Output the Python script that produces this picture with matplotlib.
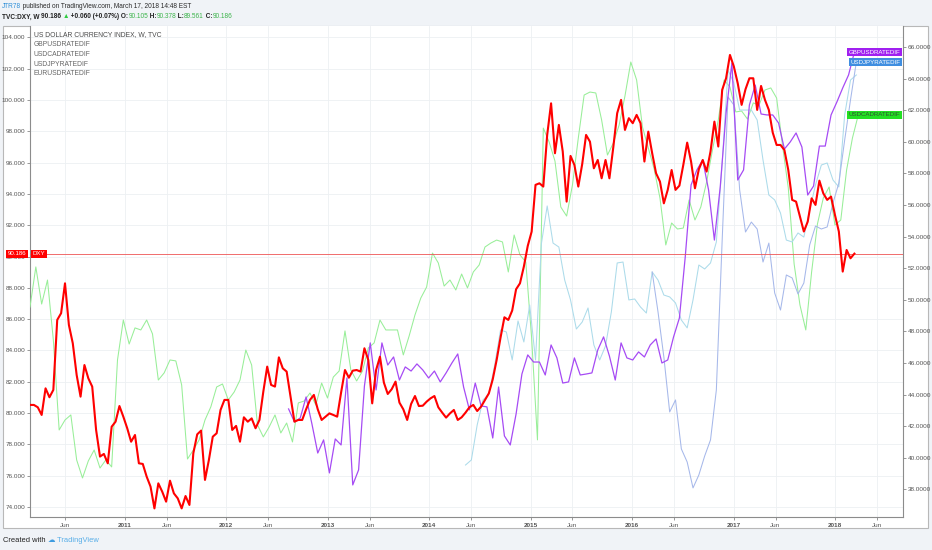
import numpy as np
import pandas as pd
import matplotlib
matplotlib.use('Agg')
import matplotlib.pyplot as plt
import matplotlib.transforms as mtransforms
from matplotlib.patches import Rectangle

W, H = 932, 550
plt.rcParams['font.family'] = ['Liberation Sans Narrow', 'Liberation Sans', 'DejaVu Sans']

### DATA

# US dollar index, sampled every two weeks (left axis)
dxy_start = '2010-01-25'
dxy = [80.52, 80.52, 80.37, 79.88, 81.58, 81.01, 81.48, 85.95, 86.38, 88.29,
       85.63, 84.46, 82.43, 81.05, 83.07, 82.22, 81.69, 78.92, 77.22, 77.39,
       76.79, 79.13, 79.45, 80.45, 79.77, 79.03, 78.17, 78.60, 76.79, 76.75,
       75.94, 75.30, 73.91, 75.51, 74.98, 74.34, 75.68, 74.87, 74.55, 73.91,
       74.70, 74.13, 77.43, 78.64, 78.88, 75.73, 77.00, 78.49, 78.71, 80.20,
       80.84, 80.84, 78.92, 79.18, 78.17, 79.73, 79.45, 79.66, 79.03, 79.56,
       81.37, 82.97, 81.80, 81.69, 83.56, 82.86, 82.65, 81.05, 79.45, 79.56,
       79.56, 80.24, 80.84, 81.16, 80.24,
       79.56, 79.77, 79.98, 79.88, 79.77, 81.31, 82.75, 82.26, 82.71, 82.75,
       82.65, 84.14, 83.39, 80.62, 82.75, 83.60, 81.95, 81.22, 81.52, 82.01,
       80.67, 80.24, 79.56, 80.58, 81.09, 80.45, 80.47, 80.73, 80.94, 81.09,
       80.37, 80.03, 79.71, 79.98, 80.20, 79.56, 79.73, 80.03, 80.37, 80.52,
       80.13, 80.41, 80.84, 81.26, 82.16, 83.39, 84.82, 86.12, 85.95, 86.55,
       87.91, 88.29, 89.36, 90.68,
       91.59, 94.58, 94.68, 94.47, 97.77, 99.79, 96.60, 98.41, 96.71, 93.51,
       96.43, 95.85, 94.47, 95.90, 97.77, 97.34, 95.64, 96.17, 95.00, 96.17,
       95.00, 96.98, 99.16, 100.01, 98.09, 98.84, 98.52, 99.05, 98.52, 96.07,
       97.98, 96.60, 95.32, 94.79, 93.40, 94.26, 95.53, 94.26, 94.53, 95.85,
       97.28, 96.07, 94.36, 95.58, 96.17, 95.43, 96.71, 98.62, 97.03, 100.65,
       101.39, 102.88, 102.14, 101.07, 99.69, 100.69, 101.39, 101.39, 99.37, 100.90,
       100.01, 99.37, 97.92, 97.13, 97.13, 96.81, 95.53, 93.62, 93.51, 92.55,
       91.60, 92.23, 93.72, 93.30, 94.85, 94.04, 93.62, 93.83, 92.66, 91.60,
       89.04, 90.42, 89.89, 90.186]

# rate differentials, sampled every three weeks (right axis)
cad_start = '2010-01-25'
usdcad = [49.54, 52.08, 49.73, 51.25, 47.46, 41.76, 42.39, 42.71, 39.86, 38.72,
          39.80, 40.49, 39.35, 39.86, 39.42, 46.19, 48.72, 47.20, 48.22, 48.09,
          48.72, 47.84, 44.92, 45.37, 46.19, 46.13, 44.61, 39.92, 40.49, 41.13,
          42.39, 43.22, 44.48, 44.67, 43.66, 44.16, 44.92, 46.82, 45.87, 42.08,
          41.32, 41.95, 42.71, 41.57, 42.20, 41.00, 43.47, 43.59, 44.10, 43.34,
          44.73, 43.78, 45.11, 45.49, 48.03, 45.56, 44.86, 45.49, 46.95, 47.27,
          48.72, 48.09, 48.09, 48.09, 46.51, 47.71, 49.04, 50.11, 50.81, 52.96,
          52.33, 50.87, 51.25, 50.62, 51.63, 50.75, 51.76, 52.20, 53.34, 53.59,
          53.78, 53.66, 51.76, 54.10, 52.84, 52.39, 47.58, 41.13, 60.87, 59.99,
          58.78, 55.87, 55.30, 57.27, 60.24, 62.96, 63.15, 63.09, 61.38, 59.16,
          59.92, 61.06, 62.90, 65.05, 63.91, 60.94, 59.61, 58.28, 56.44, 53.47,
          54.86, 54.48, 54.54, 56.32, 55.05, 55.87, 57.46, 59.48, 61.38, 63.91,
          63.47, 61.89, 61.95, 61.44, 62.46, 62.33, 63.28, 63.41, 62.77, 59.80,
          57.08, 52.27, 49.67, 48.09, 51.76, 54.80, 56.44, 57.14, 54.73, 55.05,
          58.22, 60.24, 61.70]

gbp_start = '2012-08-13'
gbpusd = [43.09, 42.27, 42.52, 43.85, 42.14, 40.30, 41.13, 39.04, 41.19, 40.81,
          45.05, 38.28, 39.23, 44.54, 47.27, 44.29, 47.27, 45.87, 46.38, 44.92,
          45.75, 45.49, 45.94, 45.56, 45.05, 45.49, 44.80, 45.37, 46.00, 46.57,
          44.48, 43.03, 44.73, 43.28, 43.22, 41.25, 44.48, 41.38, 40.81, 42.77,
          45.30, 46.51, 46.06, 46.06, 45.24, 47.14, 46.32, 44.73, 44.80, 46.32,
          45.24, 45.30, 45.37, 46.82, 47.65, 46.44, 44.92, 47.27, 46.32, 46.19,
          46.70, 46.38, 47.14, 47.52, 46.00, 46.19, 47.65, 48.85, 52.71, 57.27,
          58.22, 58.85, 56.95, 53.78, 57.14, 61.82, 64.99, 57.58, 58.22, 62.33,
          63.59, 61.76, 61.70, 61.70, 61.19, 59.54, 59.99, 60.56, 59.67, 56.63,
          57.20, 59.73, 59.73, 61.70, 62.52, 63.41, 64.23, 65.68]

eur_start = '2014-05-12'
eurusd = [39.54, 39.86, 42.08, 43.66, 44.04, 45.87, 48.09, 47.96, 46.19, 48.66,
          47.33, 49.67, 46.19, 53.53, 55.94, 53.59, 53.34, 51.25, 49.99, 48.15,
          48.59, 49.48, 47.14, 46.19, 47.08, 49.23, 52.33, 52.39, 49.99, 50.05,
          49.54, 49.16, 51.76, 51.25, 50.30, 50.18, 49.80, 48.72, 48.22, 49.99,
          52.20, 51.95, 52.33, 53.66, 58.66, 64.54, 63.72, 62.01, 62.01, 62.01,
          61.38, 58.85, 56.63, 56.32, 55.49, 53.78, 53.66, 54.23, 53.97, 55.68,
          57.27, 58.53, 58.66, 57.58, 57.14, 61.70, 63.91, 64.23]

jpy_start = '2016-03-14'
usdjpy = [51.76, 49.23, 46.38, 42.90, 43.66, 40.56, 39.73, 38.09, 38.91, 40.11,
          41.13, 44.29, 53.78, 62.84, 62.33, 56.95, 54.29, 54.92, 54.48, 52.39,
          53.59, 50.43, 49.35, 51.57, 51.38, 50.37, 51.06, 53.47, 54.67, 54.48,
          54.61, 56.13, 57.39, 60.11, 62.65, 65.05]

left_ticks = np.arange(74, 105, 2)
right_ticks = np.arange(38, 67, 2)
year_ticks = list(range(2011, 2019))
jun_ticks = list(range(2010, 2019))

legend_lines = ['US DOLLAR CURRENCY INDEX, W, TVC', 'GBPUSDRATEDIF',
                'USDCADRATEDIF', 'USDJPYRATEDIF', 'EURUSDRATEDIF']

dxy_dates = pd.date_range(dxy_start, periods=len(dxy), freq='14D')
cad_dates = pd.date_range(cad_start, periods=len(usdcad), freq='21D')
gbp_dates = pd.date_range(gbp_start, periods=len(gbpusd), freq='21D')
eur_dates = pd.date_range(eur_start, periods=len(eurusd), freq='21D')
jpy_dates = pd.date_range(jpy_start, periods=len(usdjpy), freq='21D')

### FIGURE

fig = plt.figure(figsize=(W / 100, H / 100), dpi=100, facecolor='#f0f3f7')
fig.patches.append(Rectangle((3 / W, 1 - 528 / H), 925 / W, 502 / H, transform=fig.transFigure,
                             facecolor='white', edgecolor='#b8b8b8', lw=0.8, zorder=-5))

ax = fig.add_axes([30 / W, 1 - 517 / H, 873 / W, 491 / H])
ax.set_zorder(1)
ax2 = ax.twinx()   # right scale, thin lines
ax3 = ax.twinx()   # left scale again, so the index sits on top
ax2.set_zorder(2)
ax3.set_zorder(3)

ax.set_xlim(pd.Timestamp('2010-01-25'), pd.Timestamp('2018-09-03'))
ax.set_ylim(73.36, 104.73)
ax3.set_ylim(73.36, 104.73)
ax2.set_ylim(36.25, 67.33)

# x ticks: years and June
tick_dates = [pd.Timestamp(f'{y}-06-01') for y in jun_ticks] + [pd.Timestamp(f'{y}-01-01') for y in year_ticks]
tick_text = ['Jun'] * len(jun_ticks) + [str(y) for y in year_ticks]
order = np.argsort(tick_dates)
tick_dates = [tick_dates[i] for i in order]
tick_text = [tick_text[i] for i in order]
ax.set_xticks(tick_dates)
ax.set_xticklabels(tick_text)
for lbl in ax.get_xticklabels():
    if lbl.get_text() == 'Jun':
        lbl.set_color('#666666')
    else:
        lbl.set_color('#333333')
        lbl.set_fontweight('bold')

ax.set_yticks(left_ticks)
ax.set_yticklabels([f'{v:.3f}' for v in left_ticks])
ax2.set_yticks(right_ticks)
ax2.set_yticklabels([f'{v:.4f}' for v in right_ticks])
ax3.set_yticks([])
ax3.tick_params(right=False, labelright=False)

for a in (ax, ax2):
    a.tick_params(labelsize=4.6, length=2, width=0.6, color='#888888', labelcolor='#555555', pad=1.5)
ax.tick_params(axis='x', pad=2.5)

ax.set_facecolor('white')
ax2.set_facecolor('none')
ax3.set_facecolor('none')
ax.grid(True, color='#edf0f3', lw=0.6)
ax.set_axisbelow(True)

for name, sp in ax.spines.items():
    sp.set_color('#8c8c8c')
    sp.set_linewidth(0.8)
ax.spines['top'].set_visible(False)
for a in (ax2, ax3):
    for sp in a.spines.values():
        sp.set_visible(False)

# thin series
ax2.plot(cad_dates, usdcad, color='#98ee98', lw=0.75)
ax2.plot(eur_dates, eurusd, color='#acdbea', lw=0.75)
ax2.plot(jpy_dates, usdjpy, color='#a6b8ea', lw=0.75)
ax2.plot(gbp_dates, gbpusd, color='#a64bf4', lw=0.9)

# dollar index and its last price line
ax3.axhline(dxy[-1], color='#ee5555', lw=0.6, zorder=1)
ax3.plot(dxy_dates, dxy, color='#ff0000', lw=1.5, zorder=3)

# price labels
trans3 = mtransforms.blended_transform_factory(ax3.transAxes, ax3.transData)
ax3.text(-0.004, dxy[-1], f'{dxy[-1]:.3f}', transform=trans3, ha='right', va='center',
         fontsize=4.4, color='white', clip_on=False, zorder=10,
         bbox=dict(boxstyle='square,pad=0.25', fc='#ff0000', ec='none'))
ax3.text(0.003, dxy[-1], 'DXY', transform=trans3, ha='left', va='center', fontsize=4.4, color='white',
         clip_on=False, zorder=10, bbox=dict(boxstyle='square,pad=0.25', fc='#ff0000', ec='none'))

trans2 = mtransforms.blended_transform_factory(ax2.transAxes, ax2.transData)
for val, name, fc, tc in [(gbpusd[-1], 'GBPUSDRATEDIF', '#a020f0', 'white'),
                          (usdjpy[-1], 'USDJPYRATEDIF', '#3f8ee0', 'white'),
                          (usdcad[-1], 'USDCADRATEDIF', '#22e022', '#2f5530')]:
    ax2.text(0.997, val, name, transform=trans2, ha='right', va='center', fontsize=4.4, color=tc,
             clip_on=False, zorder=10, bbox=dict(boxstyle='square,pad=0.25', fc=fc, ec='none'))

# legend text in the corner
for i, s in enumerate(legend_lines):
    fig.text(34 / W, 1 - (35 + 9.7 * i) / H, s, fontsize=4.9, color='#4a4a4a' if i == 0 else '#666666',
             ha='left', va='center', zorder=10)


def write_parts(parts, x, y, size):
    renderer = fig.canvas.get_renderer()
    for s, color, weight in parts:
        t = fig.text(x / W, 1 - y / H, s, fontsize=size, color=color, fontweight=weight,
                     ha='left', va='center')
        x = t.get_window_extent(renderer).x1


green = '#3cb44b'
write_parts([('JTR78', '#2e8fd8', 'normal'),
             (' published on TradingView.com, March 17, 2018 14:48 EST', '#2a2a2a', 'normal')], 2, 6, 4.7)
write_parts([('TVC:DXY, W ', '#222222', 'bold'), ('90.186 ', '#222222', 'bold'), ('\u25b2', '#2ecc40', 'normal'),
             (' +0.060 (+0.07%) O:', '#222222', 'bold'), ('90.105', green, 'normal'),
             (' H:', '#222222', 'bold'), ('90.378', green, 'normal'),
             (' L:', '#222222', 'bold'), ('89.561', green, 'normal'),
             (' C:', '#222222', 'bold'), ('90.186', green, 'normal')], 2, 17, 4.7)
write_parts([('Created with ', '#222222', 'normal'), ('\u2601', '#3d9be0', 'normal'),
             (' TradingView', '#58aee8', 'normal')], 3, 540, 5.4)

fig.savefig('out.png', dpi=100, facecolor=fig.get_facecolor())
